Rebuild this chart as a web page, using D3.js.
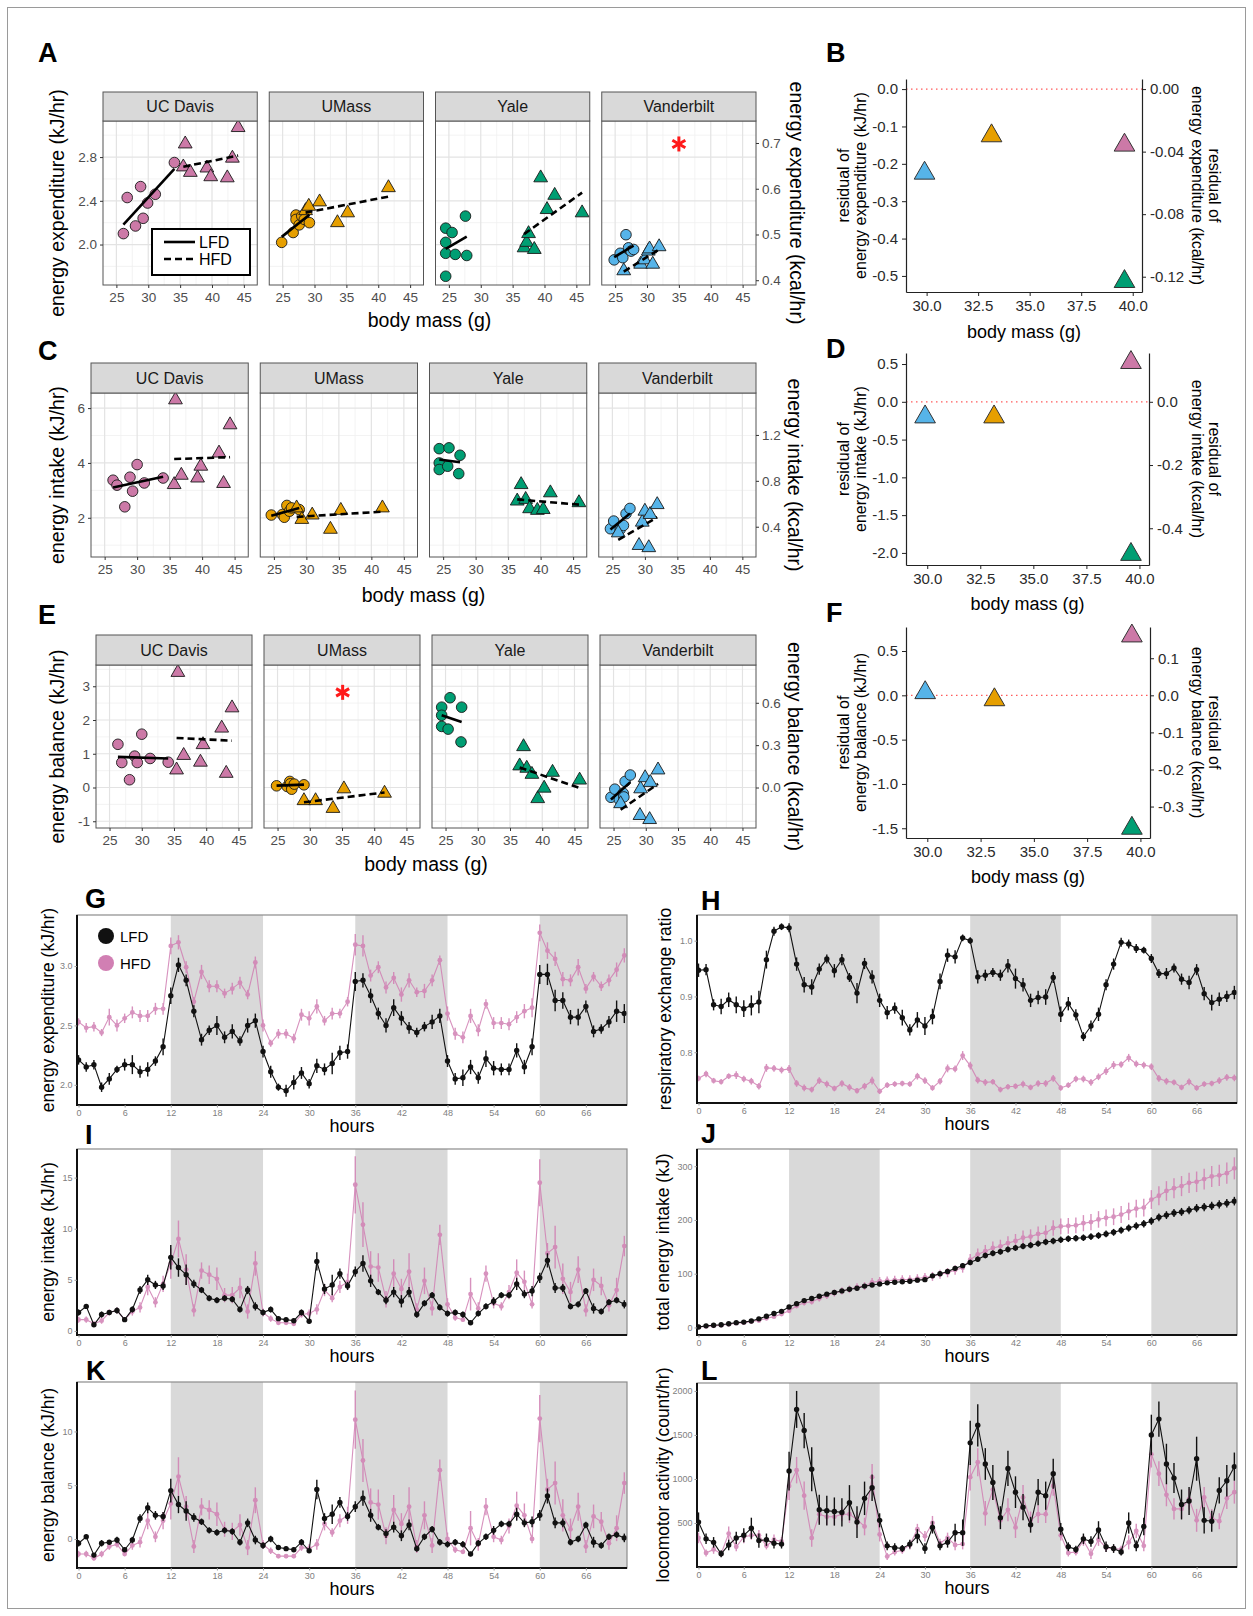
<!DOCTYPE html>
<html>
<head>
<meta charset="utf-8">
<script src="https://cdn.jsdelivr.net/npm/d3@7"></script>
<style>
  body { margin: 0; background: #fff; }
  text { font-family: "Liberation Sans", Arial, Helvetica, sans-serif; }
</style>
</head>
<body>
<svg id="fig" width="1253" height="1616"></svg>
<script>
// ---------- data ----------
const sites = ["UC Davis", "UMass", "Yale", "Vanderbilt"];
const siteColors = ["#CC79A7", "#E69F00", "#009E73", "#56B4E9"];

// A: energy expenditure (kJ/hr) vs body mass (g), per site [mass, value]
const eeLFD = [
  [[26.1,2.10],[26.7,2.43],[28.0,2.17],[28.8,2.53],[29.2,2.24],[29.9,2.38],[31.1,2.46],[34.1,2.75]],
  [[24.85,2.02],[26.65,2.11],[27.1,2.27],[27.1,2.23],[27.6,2.18],[28.0,2.26],[28.4,2.23],[29.2,2.20]],
  [[24.5,2.15],[24.5,2.02],[24.5,1.92],[24.5,1.71],[25.5,2.11],[26.0,1.91],[27.6,2.26],[27.8,1.90]],
  [[24.85,1.86],[25.8,1.92],[26.2,1.88],[26.7,2.09],[27.1,1.97],[27.5,1.94],[27.9,1.955]]
];
const eeHFD = [
  [[35.5,2.71],[35.8,2.92],[36.6,2.66],[39.2,2.70],[39.8,2.62],[42.4,2.61],[43.2,2.79],[44.1,3.07]],
  [[28.6,2.31],[29.1,2.35],[30.8,2.39],[33.6,2.20],[35.2,2.29],[41.6,2.52]],
  [[36.8,1.97],[37.2,2.02],[37.5,2.10],[38.4,1.955],[39.4,2.61],[40.4,2.32],[41.6,2.45],[45.9,2.29]],
  [[26.35,1.76],[29.0,1.82],[29.6,1.86],[30.2,1.94],[30.4,1.96],[30.9,1.82],[31.9,1.98]]
];
// C: energy intake (kJ/hr)
const eiLFD = [
  [[26.3,3.37],[26.9,3.19],[28.1,2.40],[28.9,3.48],[29.3,2.97],[30.0,3.94],[31.1,3.27],[34.0,3.45]],
  [[24.6,2.10],[26.3,2.12],[26.6,2.02],[27.0,2.45],[27.4,2.24],[27.7,2.36],[28.9,2.30]],
  [[24.4,4.52],[24.4,4.00],[24.4,3.76],[25.7,3.88],[25.9,4.55],[27.4,3.61],[27.6,4.28]],
  [[24.7,1.60],[25.2,1.88],[26.2,1.58],[26.7,1.72],[27.1,2.15],[27.7,2.34]]
];
const eiHFD = [
  [[35.7,3.21],[35.9,6.30],[36.8,3.55],[39.3,3.45],[39.8,3.88],[42.6,4.36],[43.3,3.25],[44.3,5.39]],
  [[28.5,2.36],[29.3,1.94],[30.9,2.10],[33.7,1.58],[35.3,2.27],[41.7,2.36]],
  [[36.4,2.61],[37.0,3.21],[37.7,2.67],[38.3,2.33],[39.5,2.27],[40.4,2.30],[41.5,2.91],[45.9,2.55]],
  [[25.9,1.45],[29.1,0.99],[29.6,1.84],[30.0,2.24],[30.6,0.91],[30.8,2.12],[31.9,2.48]]
];
// E: energy balance (kJ/hr)
const ebLFD = [
  [[26.3,1.28],[26.9,0.74],[28.1,0.23],[28.9,0.93],[29.3,0.74],[30.0,1.58],[31.3,0.86],[34.1,0.75]],
  [[24.85,0.05],[26.5,0.03],[26.9,0.18],[27.0,0.11],[27.2,-0.05],[27.6,0.10],[29.1,0.08]],
  [[24.4,2.38],[24.4,2.14],[24.4,1.81],[25.4,1.73],[25.7,2.66],[27.4,1.35],[27.5,2.38]],
  [[24.6,-0.29],[25.2,-0.05],[25.9,-0.36],[26.5,-0.17],[26.6,-0.28],[26.8,0.18],[27.6,0.37]]
];
const ebHFD = [
  [[35.4,0.52],[35.6,3.41],[36.5,0.95],[39.1,0.75],[39.5,1.27],[42.4,1.76],[43.1,0.42],[44.0,2.36]],
  [[29.1,-0.39],[30.9,-0.39],[33.6,-0.62],[35.3,-0.04],[41.6,-0.17]],
  [[36.5,0.64],[37.1,1.21],[37.6,0.57],[38.4,0.39],[39.3,-0.33],[40.3,-0.02],[41.6,0.45],[45.8,0.22]],
  [[26.1,-0.48],[29.1,-0.83],[29.2,-0.04],[29.9,0.29],[30.6,-0.95],[30.7,0.15],[31.9,0.52]]
];
// significance asterisks [site index, mass, value]
const eeStar = [3, 35, 2.92];
const ebStar = [1, 35.1, 2.82];

// B, D, F: site residuals (HFD) vs mean body mass
const residMass = [39.6, 33.15, 39.6, 29.9];
const eeResid = [-0.15, -0.125, -0.515, -0.225];
const eiResid = [0.52, -0.2, -2.02, -0.2];
const ebResid = [0.67, -0.05, -1.5, 0.03];

// G-L: hourly time courses (hours 0..71), means and standard errors
const hours = d3.range(72);
const darkPhases = [[12, 24], [36, 48], [60, 72]];

const eeTimeLFD = [2.21,2.15,2.17,1.98,2.05,2.13,2.17,2.17,2.11,2.13,2.20,2.32,2.75,3.01,2.88,2.62,2.38,2.46,2.50,2.40,2.45,2.37,2.50,2.54,2.28,2.11,1.98,1.95,2.02,2.10,2.01,2.16,2.13,2.18,2.27,2.28,2.87,2.88,2.75,2.60,2.50,2.65,2.56,2.48,2.44,2.49,2.53,2.58,2.20,2.05,2.06,2.15,2.06,2.22,2.14,2.13,2.13,2.29,2.15,2.32,2.93,2.93,2.71,2.71,2.57,2.57,2.66,2.45,2.47,2.53,2.62,2.60];
const eeTimeLFDse = [0.04,0.04,0.04,0.04,0.05,0.03,0.05,0.08,0.05,0.06,0.04,0.07,0.07,0.06,0.05,0.05,0.05,0.04,0.08,0.05,0.06,0.04,0.06,0.06,0.05,0.05,0.03,0.05,0.06,0.05,0.04,0.06,0.05,0.09,0.06,0.06,0.08,0.06,0.06,0.05,0.06,0.07,0.06,0.05,0.04,0.04,0.06,0.06,0.05,0.05,0.07,0.06,0.05,0.07,0.06,0.05,0.05,0.06,0.06,0.07,0.08,0.09,0.09,0.07,0.06,0.07,0.05,0.05,0.04,0.05,0.09,0.08];
const eeTimeHFD = [2.53,2.48,2.49,2.44,2.57,2.50,2.56,2.61,2.58,2.58,2.64,2.64,3.17,3.20,2.99,2.70,2.95,2.83,2.83,2.77,2.81,2.86,2.76,3.03,2.50,2.35,2.43,2.43,2.39,2.59,2.56,2.66,2.54,2.60,2.60,2.70,3.18,3.17,2.92,2.99,2.82,2.90,2.76,2.88,2.78,2.79,2.88,3.05,2.60,2.43,2.40,2.58,2.46,2.68,2.52,2.52,2.51,2.57,2.62,2.65,3.28,3.13,3.06,2.89,2.88,2.99,2.81,2.91,2.83,2.88,2.97,3.09];
const eeTimeHFDse = [0.03,0.04,0.04,0.03,0.07,0.05,0.04,0.05,0.05,0.05,0.05,0.05,0.07,0.06,0.05,0.04,0.06,0.05,0.05,0.04,0.05,0.05,0.04,0.05,0.05,0.03,0.04,0.04,0.04,0.05,0.06,0.06,0.04,0.05,0.04,0.04,0.09,0.09,0.05,0.05,0.05,0.05,0.06,0.06,0.04,0.06,0.05,0.04,0.06,0.05,0.05,0.06,0.05,0.04,0.05,0.05,0.05,0.05,0.06,0.08,0.07,0.07,0.06,0.06,0.05,0.07,0.04,0.04,0.04,0.05,0.06,0.06];

const rerLFD = [0.947,0.948,0.885,0.882,0.894,0.885,0.878,0.884,0.890,0.966,1.017,1.025,1.023,0.958,0.921,0.917,0.949,0.967,0.946,0.966,0.934,0.906,0.959,0.935,0.893,0.871,0.879,0.862,0.840,0.858,0.847,0.864,0.927,0.974,0.971,1.005,1.000,0.935,0.938,0.943,0.938,0.955,0.932,0.921,0.893,0.898,0.899,0.934,0.868,0.887,0.867,0.828,0.847,0.868,0.921,0.958,0.997,0.994,0.986,0.983,0.968,0.941,0.941,0.951,0.931,0.925,0.948,0.905,0.889,0.895,0.900,0.907];
const rerLFDse = [0.012,0.010,0.010,0.014,0.013,0.015,0.015,0.018,0.020,0.016,0.008,0.006,0.008,0.012,0.014,0.014,0.010,0.008,0.012,0.010,0.008,0.018,0.010,0.012,0.012,0.012,0.010,0.014,0.010,0.014,0.016,0.014,0.014,0.012,0.012,0.006,0.006,0.012,0.010,0.008,0.010,0.012,0.018,0.012,0.012,0.012,0.014,0.010,0.014,0.012,0.010,0.008,0.010,0.012,0.010,0.010,0.008,0.008,0.008,0.006,0.008,0.008,0.010,0.008,0.010,0.012,0.010,0.012,0.014,0.012,0.010,0.012];
const rerHFD = [0.753,0.761,0.749,0.747,0.757,0.759,0.752,0.748,0.739,0.772,0.771,0.768,0.770,0.744,0.736,0.733,0.749,0.743,0.735,0.744,0.737,0.731,0.739,0.749,0.730,0.741,0.743,0.744,0.743,0.757,0.749,0.736,0.748,0.771,0.770,0.794,0.776,0.750,0.746,0.747,0.733,0.738,0.739,0.743,0.737,0.744,0.744,0.753,0.736,0.741,0.752,0.752,0.746,0.756,0.766,0.777,0.778,0.790,0.779,0.777,0.774,0.753,0.748,0.746,0.737,0.747,0.736,0.743,0.744,0.749,0.755,0.754];
const rerHFDse = [0.005,0.006,0.005,0.005,0.005,0.007,0.006,0.006,0.006,0.007,0.006,0.006,0.007,0.006,0.006,0.005,0.006,0.006,0.005,0.006,0.006,0.005,0.006,0.007,0.005,0.005,0.005,0.005,0.005,0.006,0.006,0.005,0.006,0.007,0.006,0.008,0.007,0.006,0.006,0.005,0.005,0.005,0.005,0.006,0.005,0.006,0.006,0.006,0.005,0.005,0.006,0.006,0.006,0.006,0.007,0.007,0.006,0.007,0.006,0.006,0.006,0.006,0.006,0.005,0.005,0.006,0.005,0.005,0.005,0.006,0.006,0.006];

const eiTimeLFD = [1.8,2.4,0.6,1.6,1.8,2.0,1.1,2.1,4.0,5.0,4.5,4.4,7.2,6.2,5.5,4.6,4.0,3.2,3.0,3.2,3.1,2.1,4.0,2.4,1.8,2.1,1.2,1.1,1.0,1.8,0.95,6.8,4.1,4.5,5.6,4.4,5.8,6.6,4.9,3.8,3.0,3.8,2.9,3.8,1.6,2.7,3.5,2.3,1.7,1.8,1.6,0.8,1.7,2.4,2.9,3.5,3.5,4.6,3.6,3.9,5.2,6.9,4.2,4.2,2.4,2.6,3.9,2.2,1.9,2.8,3.0,2.6];
const eiTimeLFDse = [0.3,0.2,0.2,0.3,0.2,0.3,0.2,0.3,0.4,0.5,0.4,0.4,1.2,0.9,1.0,0.4,0.3,0.3,0.3,0.3,0.3,0.3,0.4,0.4,0.3,0.3,0.2,0.2,0.2,0.3,0.2,0.9,0.5,1.0,0.5,0.4,0.5,0.8,0.6,0.3,0.4,0.5,0.6,0.5,0.3,0.3,0.3,0.3,0.3,0.3,0.3,0.2,0.3,0.3,0.4,0.3,0.3,0.6,0.4,0.5,0.5,0.7,0.5,0.4,0.3,0.3,0.3,0.5,0.3,0.3,0.3,0.4];
const eiTimeHFD = [1.1,1.1,0.7,1.0,1.8,2.0,1.1,1.9,2.3,4.3,2.8,4.6,6.6,9.0,6.0,2.0,5.9,5.5,5.1,3.5,3.5,4.2,1.9,6.6,1.8,1.2,0.8,0.8,0.7,1.6,1.7,2.1,4.0,3.2,4.3,4.8,14.3,10.4,6.3,6.2,3.1,5.6,4.1,5.8,2.1,4.9,2.2,9.4,2.6,1.3,1.1,3.6,2.2,5.6,2.7,2.4,3.8,5.7,4.8,2.6,14.5,7.6,8.2,5.1,3.8,6.0,2.0,5.0,4.4,2.5,4.0,8.3];
const eiTimeHFDse = [0.3,0.3,0.2,0.3,0.3,0.3,0.2,0.4,0.5,0.8,0.5,0.8,1.5,1.8,1.5,0.6,0.8,0.9,1.1,0.7,0.8,1.0,0.7,1.2,0.4,0.3,0.2,0.2,0.2,0.3,0.4,0.5,0.6,0.4,0.6,0.8,2.8,2.2,1.5,1.4,0.8,1.4,1.0,1.8,0.6,1.3,0.7,1.0,0.6,0.3,0.2,1.6,0.6,0.8,0.5,0.4,0.7,1.3,1.1,0.4,2.3,1.0,2.1,1.5,1.0,1.3,0.6,1.1,0.9,0.6,1.2,1.0];

const cumLFD = [1,3,4,5,7,9,10,12,16,21,26,30,38,44,50,54,58,62,65,68,71,73,77,79,81,83,84,85,86,88,89,96,100,104,110,115,121,127,134,138,141,145,148,151,153,156,159,161,163,165,166,167,169,171,174,177,181,185,189,193,198,205,209,213,215,218,222,224,226,229,231,235];
const cumLFDse = [0.3,0.5,0.6,0.7,0.8,0.9,1.0,1.1,1.3,1.5,1.7,1.9,2.3,2.5,2.7,2.8,2.9,3.0,3.1,3.2,3.3,3.3,3.4,3.4,3.5,3.5,3.5,3.6,3.6,3.6,3.6,3.9,4.0,4.3,4.5,4.6,4.8,5.0,5.2,5.3,5.4,5.5,5.6,5.7,5.7,5.8,5.9,6.0,6.0,6.1,6.1,6.1,6.2,6.2,6.3,6.4,6.5,6.6,6.7,6.8,7.0,7.2,7.3,7.4,7.4,7.5,7.6,7.6,7.7,7.8,7.8,8.0];
const cumHFD = [1,2,3,4,6,8,9,11,13,17,20,25,31,40,46,48,54,59,64,68,71,75,77,84,86,87,88,89,89,91,93,95,99,102,107,111,126,136,142,148,151,157,161,167,169,174,176,185,188,189,190,194,196,201,204,206,210,216,221,223,238,245,254,259,263,269,271,276,281,283,287,296];
const cumHFDse = [0.3,0.4,0.5,0.6,0.8,0.9,1.0,1.2,1.5,2.0,2.3,2.8,3.5,4.5,5.0,5.2,5.6,6.0,6.4,6.8,7.0,7.3,7.4,7.8,7.9,8.0,8.0,8.1,8.1,8.1,8.2,8.3,8.5,8.6,8.8,9.0,10.5,11.0,11.5,12.0,12.2,12.6,12.9,13.3,13.5,13.8,14.0,14.5,14.6,14.7,14.7,15.0,15.1,15.4,15.5,15.6,15.8,16.2,16.5,16.6,17.5,17.8,18.2,18.5,18.7,19.0,19.1,19.3,19.5,19.6,19.8,20.5];

const ebTimeLFD = [-0.4,0.2,-1.5,-0.4,-0.3,-0.1,-1.0,-0.1,1.9,2.9,2.2,2.1,4.5,3.2,2.6,2.0,1.6,0.8,0.6,0.8,0.7,-0.3,1.5,-0.1,-0.6,0.0,-0.8,-0.9,-1.0,-0.3,-1.1,4.6,1.9,2.3,3.4,2.1,3.0,3.8,2.2,1.1,0.5,1.1,0.3,1.3,-0.9,0.2,0.9,-0.3,-0.5,-0.3,-0.5,-1.4,-0.4,0.2,0.8,1.4,1.4,2.3,1.5,1.6,2.2,4.0,1.5,1.5,-0.3,0.0,1.3,-0.3,-0.6,0.2,0.4,0.1];
const ebTimeLFDse = [0.3,0.2,0.2,0.3,0.2,0.3,0.2,0.3,0.4,0.5,0.4,0.4,1.1,0.8,0.9,0.4,0.3,0.3,0.3,0.3,0.3,0.3,0.4,0.4,0.3,0.3,0.2,0.2,0.2,0.3,0.2,0.9,0.5,0.9,0.5,0.4,0.5,0.7,0.6,0.3,0.4,0.5,0.5,0.5,0.3,0.3,0.3,0.3,0.3,0.3,0.3,0.2,0.3,0.3,0.4,0.3,0.3,0.6,0.4,0.5,0.5,0.7,0.5,0.4,0.3,0.3,0.3,0.5,0.3,0.3,0.3,0.4];
const ebTimeHFD = [-1.4,-1.4,-1.8,-1.4,-0.7,-0.5,-1.4,-0.6,-0.3,1.7,0.2,1.7,3.3,5.8,3.0,-0.7,3.0,2.7,2.3,0.9,0.7,1.3,-0.8,3.6,-0.5,-1.1,-1.6,-1.6,-1.6,-0.8,-0.9,-0.5,1.4,0.6,1.7,2.2,11.1,7.3,3.4,3.2,0.3,2.7,1.4,3.0,-0.7,2.2,-0.6,6.4,0.0,-1.0,-1.2,1.0,-0.5,3.0,0.2,-0.1,1.2,3.1,2.2,0.0,11.2,4.6,5.2,2.2,0.9,3.0,-0.7,2.1,1.6,-0.4,1.0,5.2];
const ebTimeHFDse = [0.3,0.3,0.2,0.3,0.3,0.3,0.2,0.4,0.5,0.8,0.5,0.8,1.5,1.8,1.0,0.6,0.8,0.9,1.1,0.7,0.8,1.0,0.7,1.2,0.4,0.3,0.2,0.2,0.2,0.3,0.4,0.5,0.6,0.4,0.6,0.8,2.7,2.0,1.3,1.4,0.8,1.4,1.0,1.8,0.6,1.3,0.7,1.0,0.6,0.3,0.2,1.6,0.6,0.8,0.5,0.4,0.7,1.3,1.1,0.4,2.2,1.0,2.0,1.5,1.0,1.3,0.6,1.1,0.9,0.6,1.2,1.0];

const locoLFD = [510,320,280,150,250,330,360,440,300,310,270,260,1090,1790,1550,1110,650,640,630,620,730,510,780,900,530,240,220,210,260,350,210,450,240,280,390,390,1410,1610,1170,960,560,1120,850,680,480,850,810,1060,430,230,200,320,290,420,230,210,170,500,240,460,1500,1680,1170,1010,710,750,1230,530,520,870,980,1140];
const locoLFDse = [110,60,60,40,60,70,80,120,80,70,60,50,220,210,200,250,170,170,160,160,200,180,190,150,80,50,50,40,50,80,60,70,50,60,100,150,250,240,180,200,130,200,180,150,90,150,160,170,70,50,40,60,60,100,60,50,40,120,60,100,230,200,230,170,170,160,250,150,120,150,180,160];
const locoHFD = [330,160,200,150,380,230,340,360,360,240,310,290,920,1100,810,330,600,570,570,600,600,540,460,1020,370,120,170,190,250,430,350,500,270,330,250,260,1020,1190,610,880,530,650,450,790,530,600,600,920,360,160,170,300,150,310,220,210,200,280,410,240,1280,1060,820,660,660,770,530,790,560,520,780,850];
const locoHFDse = [60,40,50,30,80,50,70,50,60,40,60,50,160,150,160,100,100,90,90,80,100,90,100,150,80,40,40,40,50,60,60,80,50,60,60,60,150,160,140,120,80,130,120,140,100,100,100,110,60,40,40,60,60,70,50,40,40,80,80,60,150,140,130,120,110,120,130,120,100,90,120,130];

// ---------- drawing ----------
const W = 1253, H = 1616;
const svg = d3.select("#fig");
svg.append("rect").attr("width", W).attr("height", H).attr("fill", "#fff");
svg.append("rect").attr("x", 7.5).attr("y", 7.5).attr("width", W - 15).attr("height", H - 15)
    .attr("fill", "none").attr("stroke", "#9a9a9a");

const KJ_PER_KCAL = 4.184;
const hyphen = f => d => d3.format(f)(d).replace("\u2212", "-");

function letter(t, x, y) {
    svg.append("text").attr("x", x).attr("y", y).attr("font-size", 27)
        .attr("font-weight", "bold").text(t);
}

function fitLine(pts) {
    // ordinary least squares, drawn over the x range of the group
    const mx = d3.mean(pts, d => d[0]), my = d3.mean(pts, d => d[1]);
    const b = d3.sum(pts, d => (d[0] - mx) * (d[1] - my)) / d3.sum(pts, d => (d[0] - mx) ** 2);
    const [x0, x1] = d3.extent(pts, d => d[0]);
    return [[x0, my + b * (x0 - mx)], [x1, my + b * (x1 - mx)]];
}

function styleAxis(ax, size, color, family) {
    ax.select(".domain").remove();
    ax.selectAll(".tick line").attr("stroke", "#333");
    ax.selectAll(".tick text").attr("fill", color).attr("font-size", size)
        .attr("font-family", family || "Liberation Sans, Arial, sans-serif");
}

function asterisk(g, cx, cy) {
    [90, 30, 150].forEach(a => {
        const r = 7.5, t = a * Math.PI / 180;
        g.append("line")
            .attr("x1", cx - r * Math.cos(t)).attr("y1", cy - r * Math.sin(t))
            .attr("x2", cx + r * Math.cos(t)).attr("y2", cy + r * Math.sin(t))
            .attr("stroke", "#ff1a1a").attr("stroke-width", 3);
    });
}

// faceted scatter panels (A, C, E)
function facetPanel(o) {
    const gap = 12, pw = (o.right - o.left - 3 * gap) / 4;
    const y = d3.scaleLinear().domain(o.yDomain).range([o.bottom, o.stripBottom]);
    const tri = d3.symbol().type(d3.symbolTriangle).size(82);

    sites.forEach((site, i) => {
        const px = o.left + i * (pw + gap);
        const x = d3.scaleLinear().domain([22.9, 47.1]).range([px, px + pw]);
        const g = svg.append("g");
        g.append("rect").attr("x", px).attr("y", o.stripBottom).attr("width", pw)
            .attr("height", o.bottom - o.stripBottom).attr("fill", "#fff");

        g.selectAll(null).data([27.5, 32.5, 37.5, 42.5]).join("line")
            .attr("x1", d => x(d)).attr("x2", d => x(d))
            .attr("y1", o.stripBottom).attr("y2", o.bottom)
            .attr("stroke", "#f0f0f0").attr("stroke-width", 0.8);
        g.selectAll(null).data(o.yMinor).join("line")
            .attr("x1", px).attr("x2", px + pw).attr("y1", d => y(d)).attr("y2", d => y(d))
            .attr("stroke", "#f0f0f0").attr("stroke-width", 0.8);
        g.selectAll(null).data([25, 30, 35, 40, 45]).join("line")
            .attr("x1", d => x(d)).attr("x2", d => x(d))
            .attr("y1", o.stripBottom).attr("y2", o.bottom)
            .attr("stroke", "#e3e3e3").attr("stroke-width", 1.2);
        g.selectAll(null).data(o.yTicks).join("line")
            .attr("x1", px).attr("x2", px + pw).attr("y1", d => y(d)).attr("y2", d => y(d))
            .attr("stroke", "#e3e3e3").attr("stroke-width", 1.2);

        g.selectAll(null).data(o.lfd[i]).join("circle")
            .attr("cx", d => x(d[0])).attr("cy", d => y(d[1])).attr("r", 5.3)
            .attr("fill", siteColors[i]).attr("stroke", "#1a1a1a").attr("stroke-width", 0.9);
        g.selectAll(null).data(o.hfd[i]).join("path")
            .attr("d", tri).attr("transform", d => `translate(${x(d[0])},${y(d[1])})`)
            .attr("fill", siteColors[i]).attr("stroke", "#1a1a1a").attr("stroke-width", 0.9);

        [[o.lfd[i], null], [o.hfd[i], "7,4"]].forEach(([pts, dash]) => {
            const f = fitLine(pts);
            g.append("line")
                .attr("x1", x(f[0][0])).attr("y1", y(f[0][1]))
                .attr("x2", x(f[1][0])).attr("y2", y(f[1][1]))
                .attr("stroke", "#000").attr("stroke-width", 2.6)
                .attr("stroke-dasharray", dash);
        });

        if (o.star && o.star[0] === i) asterisk(g, x(o.star[1]), y(o.star[2]));

        g.append("rect").attr("x", px).attr("y", o.stripBottom).attr("width", pw)
            .attr("height", o.bottom - o.stripBottom).attr("fill", "none")
            .attr("stroke", "#555").attr("stroke-width", 1);
        g.append("rect").attr("x", px).attr("y", o.stripTop).attr("width", pw)
            .attr("height", o.stripBottom - o.stripTop).attr("fill", "#d9d9d9")
            .attr("stroke", "#555").attr("stroke-width", 1);
        g.append("text").attr("x", px + pw / 2).attr("y", (o.stripTop + o.stripBottom) / 2)
            .attr("text-anchor", "middle").attr("dominant-baseline", "central")
            .attr("font-size", 16).attr("fill", "#1a1a1a").text(site);

        const ax = g.append("g").attr("transform", `translate(0,${o.bottom})`)
            .call(d3.axisBottom(x).tickValues([25, 30, 35, 40, 45]).tickSize(3).tickPadding(4));
        styleAxis(ax, 13.5, "#4d4d4d");

        if (i === 0) {
            const ay = g.append("g").attr("transform", `translate(${px},0)`)
                .call(d3.axisLeft(y).tickValues(o.yTicks).tickFormat(hyphen(o.yFmt)).tickSize(3).tickPadding(3));
            styleAxis(ay, 13.5, "#4d4d4d");
        }
        if (i === 3) {
            const yk = d3.scaleLinear().domain(o.yDomain.map(v => v / KJ_PER_KCAL)).range([o.bottom, o.stripBottom]);
            const ar = g.append("g").attr("transform", `translate(${px + pw},0)`)
                .call(d3.axisRight(yk).tickValues(o.rTicks).tickFormat(hyphen(".1f")).tickSize(3).tickPadding(3));
            styleAxis(ar, 13.5, "#4d4d4d");
        }
    });

    const cy = (o.stripBottom + o.bottom) / 2;
    svg.append("text").attr("transform", `translate(${o.leftTitleX},${cy}) rotate(-90)`)
        .attr("text-anchor", "middle").attr("dominant-baseline", "central")
        .attr("font-size", 19.5).text(o.title);
    svg.append("text").attr("transform", `translate(${o.rightTitleX},${cy}) rotate(90)`)
        .attr("text-anchor", "middle").attr("dominant-baseline", "central")
        .attr("font-size", 19.5).text(o.rTitle);
    svg.append("text").attr("x", (o.left + o.right) / 2).attr("y", o.xTitleY)
        .attr("text-anchor", "middle").attr("font-size", 19.5).text("body mass (g)");
}

// residual panels (B, D, F)
function residPanel(o) {
    const x = d3.scaleLinear().domain([29, 40.45]).range([o.l, o.r]);
    const y = d3.scaleLinear().domain(o.yDomain).range([o.b, o.t]);
    const yk = d3.scaleLinear().domain(o.yDomain.map(v => v / KJ_PER_KCAL)).range([o.b, o.t]);
    const g = svg.append("g");

    g.append("line").attr("x1", o.l).attr("x2", o.r).attr("y1", y(0)).attr("y2", y(0))
        .attr("stroke", "#ff5a5a").attr("stroke-width", 1.3).attr("stroke-dasharray", "1.5,3.5");
    const tri = d3.symbol().type(d3.symbolTriangle).size(185);
    g.selectAll(null).data(o.values).join("path")
        .attr("d", tri)
        .attr("transform", (d, i) => `translate(${x(residMass[i])},${y(d)})`)
        .attr("fill", (d, i) => siteColors[i]).attr("stroke", "#333").attr("stroke-width", 1);

    const axStyle = (ax) => {
        ax.select(".domain").attr("stroke", "#222").attr("stroke-width", 1.2);
        ax.selectAll(".tick line").attr("stroke", "#222");
        ax.selectAll(".tick text").attr("fill", "#2a2a2a").attr("font-size", 15)
            .attr("font-family", "Liberation Sans, Arial, sans-serif");
    };
    axStyle(g.append("g").attr("transform", `translate(0,${o.b})`)
        .call(d3.axisBottom(x).tickValues([30, 32.5, 35, 37.5, 40]).tickFormat(d3.format(".1f"))
            .tickSize(4).tickSizeOuter(0).tickPadding(4)));
    axStyle(g.append("g").attr("transform", `translate(${o.l},0)`)
        .call(d3.axisLeft(y).tickValues(o.yTicks).tickFormat(hyphen(".1f"))
            .tickSize(4).tickSizeOuter(0).tickPadding(4)));
    axStyle(g.append("g").attr("transform", `translate(${o.r},0)`)
        .call(d3.axisRight(yk).tickValues(o.rTicks).tickFormat(hyphen(o.rFmt))
            .tickSize(4).tickSizeOuter(0).tickPadding(4)));

    const cy = (o.t + o.b) / 2;
    ["residual of", o.name + " (kJ/hr)"].forEach((s, k) => {
        svg.append("text").attr("transform", `translate(${843 + k * 17},${cy}) rotate(-90)`)
            .attr("text-anchor", "middle").attr("dominant-baseline", "central")
            .attr("font-size", 16).text(s);
    });
    ["residual of", o.name + " (kcal/hr)"].forEach((s, k) => {
        svg.append("text").attr("transform", `translate(${1214 - k * 17},${cy}) rotate(90)`)
            .attr("text-anchor", "middle").attr("dominant-baseline", "central")
            .attr("font-size", 16).text(s);
    });
    svg.append("text").attr("x", (o.l + o.r) / 2).attr("y", o.xTitleY)
        .attr("text-anchor", "middle").attr("font-size", 18).text("body mass (g)");
}

// hourly time-course panels (G-L)
const pinkTs = "#d17fb3";
function tsPanel(o) {
    const x = d3.scaleLinear().domain([-0.2, 71.35]).range([o.l, o.r]);
    const y = d3.scaleLinear().domain(o.yDomain).range([o.b, o.t]);
    const g = svg.append("g");
    const clipId = "clip" + o.letter;
    g.append("clipPath").attr("id", clipId).append("rect")
        .attr("x", o.l).attr("y", o.t).attr("width", o.r - o.l).attr("height", o.b - o.t);
    const inner = g.append("g").attr("clip-path", `url(#${clipId})`);
    inner.selectAll(null).data(darkPhases).join("rect")
        .attr("x", d => x(d[0])).attr("width", d => x(d[1]) - x(d[0]))
        .attr("y", o.t).attr("height", o.b - o.t).attr("fill", "#d9d9d9");

    const series = [
        { v: o.hfd, se: o.hfdSe, color: pinkTs, r: 2.4, op: 0.85 },
        { v: o.lfd, se: o.lfdSe, color: "#111", r: 2.7, op: 1 }
    ];
    series.forEach(s => {
        const sg = inner.append("g").attr("opacity", s.op);
        sg.selectAll(null).data(hours).join("line")
            .attr("x1", h => x(h)).attr("x2", h => x(h))
            .attr("y1", h => y(s.v[h] - s.se[h])).attr("y2", h => y(s.v[h] + s.se[h]))
            .attr("stroke", s.color).attr("stroke-width", 1.4);
        sg.append("path").datum(hours)
            .attr("d", d3.line().x(h => x(h)).y(h => y(s.v[h])))
            .attr("fill", "none").attr("stroke", s.color).attr("stroke-width", 1.1);
        sg.selectAll(null).data(hours).join("circle")
            .attr("cx", h => x(h)).attr("cy", h => y(s.v[h])).attr("r", s.r)
            .attr("fill", s.color);
    });

    g.append("rect").attr("x", o.l).attr("y", o.t).attr("width", o.r - o.l).attr("height", o.b - o.t)
        .attr("fill", "none").attr("stroke", "#8c8c8c").attr("stroke-width", 1.2);
    g.append("path").attr("d", `M${o.l},${o.t}V${o.b}H${o.r}`)
        .attr("fill", "none").attr("stroke", "#111").attr("stroke-width", 2);

    const tsFont = "DejaVu Sans, sans-serif";
    const ax = g.append("g").attr("transform", `translate(0,${o.b})`)
        .call(d3.axisBottom(x).tickValues(d3.range(0, 67, 6)).tickSize(2.5).tickPadding(2));
    styleAxis(ax, 9, "#808080", tsFont);
    ax.selectAll(".tick line").attr("stroke", "#999");
    const ay = g.append("g").attr("transform", `translate(${o.l},0)`)
        .call(d3.axisLeft(y).tickValues(o.yTicks).tickFormat(d3.format(o.yFmt)).tickSize(2.5).tickPadding(2));
    styleAxis(ay, 9, "#808080", tsFont);
    ay.selectAll(".tick line").attr("stroke", "#999");

    svg.append("text").attr("transform", `translate(${o.yTitleX},${(o.t + o.b) / 2}) rotate(-90)`)
        .attr("text-anchor", "middle").attr("dominant-baseline", "central")
        .attr("font-size", 17.5).text(o.title);
    svg.append("text").attr("x", (o.l + o.r) / 2).attr("y", o.b + 27)
        .attr("text-anchor", "middle").attr("font-size", 18).text("hours");
    letter(o.letter, o.letterX, o.letterY);
}

// ---- A, C, E ----
letter("A", 38, 62);
facetPanel({
    left: 103, right: 756, stripTop: 92, stripBottom: 121, bottom: 285,
    yDomain: [1.63, 3.13], yTicks: [2.0, 2.4, 2.8], yMinor: [1.8, 2.2, 2.6, 3.0], yFmt: ".1f",
    rTicks: [0.4, 0.5, 0.6, 0.7], lfd: eeLFD, hfd: eeHFD, star: eeStar,
    title: "energy expenditure (kJ/hr)", rTitle: "energy expenditure (kcal/hr)",
    leftTitleX: 57, rightTitleX: 797, xTitleY: 327
});
// legend inside the UC Davis facet
const leg = svg.append("g");
leg.append("rect").attr("x", 152).attr("y", 229).attr("width", 98).attr("height", 46)
    .attr("fill", "#fff").attr("stroke", "#000").attr("stroke-width", 2);
[["LFD", null, 242], ["HFD", "7,4", 259]].forEach(([t, dash, ly]) => {
    leg.append("line").attr("x1", 164).attr("x2", 195).attr("y1", ly).attr("y2", ly)
        .attr("stroke", "#000").attr("stroke-width", 2.6).attr("stroke-dasharray", dash);
    leg.append("text").attr("x", 199).attr("y", ly).attr("dominant-baseline", "central")
        .attr("font-size", 16).text(t);
});

letter("C", 38, 360);
facetPanel({
    left: 91, right: 756, stripTop: 363, stripBottom: 393, bottom: 557,
    yDomain: [0.57, 6.55], yTicks: [2, 4, 6], yMinor: [1, 3, 5], yFmt: "d",
    rTicks: [0.4, 0.8, 1.2], lfd: eiLFD, hfd: eiHFD,
    title: "energy intake (kJ/hr)", rTitle: "energy intake (kcal/hr)",
    leftTitleX: 57, rightTitleX: 795, xTitleY: 602
});

letter("E", 38, 624);
facetPanel({
    left: 96, right: 756, stripTop: 635, stripBottom: 665, bottom: 828,
    yDomain: [-1.2, 3.63], yTicks: [-1, 0, 1, 2, 3], yMinor: [-0.5, 0.5, 1.5, 2.5, 3.5], yFmt: "d",
    rTicks: [0.0, 0.3, 0.6], lfd: ebLFD, hfd: ebHFD, star: ebStar,
    title: "energy balance (kJ/hr)", rTitle: "energy balance (kcal/hr)",
    leftTitleX: 57, rightTitleX: 795, xTitleY: 871
});

// ---- B, D, F ----
letter("B", 826, 62);
residPanel({
    l: 906, r: 1142, t: 79, b: 292, yDomain: [-0.543, 0.027],
    yTicks: [0, -0.1, -0.2, -0.3, -0.4, -0.5], rTicks: [0, -0.04, -0.08, -0.12], rFmt: ".2f",
    values: eeResid, name: "energy expenditure", xTitleY: 338
});
letter("D", 826, 358);
residPanel({
    l: 906, r: 1149, t: 353, b: 565, yDomain: [-2.16, 0.646],
    yTicks: [0.5, 0, -0.5, -1, -1.5, -2], rTicks: [0, -0.2, -0.4], rFmt: ".1f",
    values: eiResid, name: "energy intake", xTitleY: 610
});
letter("F", 826, 622);
residPanel({
    l: 906, r: 1150, t: 627, b: 838, yDomain: [-1.61, 0.771],
    yTicks: [0.5, 0, -0.5, -1, -1.5], rTicks: [0.1, 0, -0.1, -0.2, -0.3], rFmt: ".1f",
    values: ebResid, name: "energy balance", xTitleY: 883
});

// ---- G-L ----
tsPanel({ letter: "G", letterX: 85, letterY: 908, l: 77, r: 627, t: 915, b: 1105,
    yDomain: [1.83, 3.43], yTicks: [2.0, 2.5, 3.0], yFmt: ".1f",
    lfd: eeTimeLFD, lfdSe: eeTimeLFDse, hfd: eeTimeHFD, hfdSe: eeTimeHFDse,
    title: "energy expenditure (kJ/hr)", yTitleX: 48 });
tsPanel({ letter: "H", letterX: 701, letterY: 910, l: 697, r: 1237, t: 915, b: 1103,
    yDomain: [0.709, 1.046], yTicks: [0.8, 0.9, 1.0], yFmt: ".1f",
    lfd: rerLFD, lfdSe: rerLFDse, hfd: rerHFD, hfdSe: rerHFDse,
    title: "respiratory exchange ratio", yTitleX: 665 });
tsPanel({ letter: "I", letterX: 85, letterY: 1144, l: 77, r: 627, t: 1149, b: 1335,
    yDomain: [-0.4, 17.8], yTicks: [0, 5, 10, 15], yFmt: "d",
    lfd: eiTimeLFD, lfdSe: eiTimeLFDse, hfd: eiTimeHFD, hfdSe: eiTimeHFDse,
    title: "energy intake (kJ/hr)", yTitleX: 48 });
tsPanel({ letter: "J", letterX: 701, letterY: 1143, l: 697, r: 1237, t: 1149, b: 1335,
    yDomain: [-14, 332], yTicks: [0, 100, 200, 300], yFmt: "d",
    lfd: cumLFD, lfdSe: cumLFDse, hfd: cumHFD, hfdSe: cumHFDse,
    title: "total energy intake (kJ)", yTitleX: 663 });
tsPanel({ letter: "K", letterX: 86, letterY: 1380, l: 77, r: 627, t: 1382, b: 1568,
    yDomain: [-2.7, 14.6], yTicks: [0, 5, 10], yFmt: "d",
    lfd: ebTimeLFD, lfdSe: ebTimeLFDse, hfd: ebTimeHFD, hfdSe: ebTimeHFDse,
    title: "energy balance (kJ/hr)", yTitleX: 48 });
tsPanel({ letter: "L", letterX: 701, letterY: 1380, l: 697, r: 1237, t: 1383, b: 1567,
    yDomain: [0, 2090], yTicks: [500, 1000, 1500, 2000], yFmt: "d",
    lfd: locoLFD, lfdSe: locoLFDse, hfd: locoHFD, hfdSe: locoHFDse,
    title: "locomotor activity (count/hr)", yTitleX: 663 });

// G legend
const gl = svg.append("g");
[["LFD", "#111", 936], ["HFD", pinkTs, 963]].forEach(([t, c, ly]) => {
    gl.append("circle").attr("cx", 106).attr("cy", ly).attr("r", 8).attr("fill", c);
    gl.append("text").attr("x", 120).attr("y", ly).attr("dominant-baseline", "central")
        .attr("font-size", 15).text(t);
});
</script>
</body>
</html>
